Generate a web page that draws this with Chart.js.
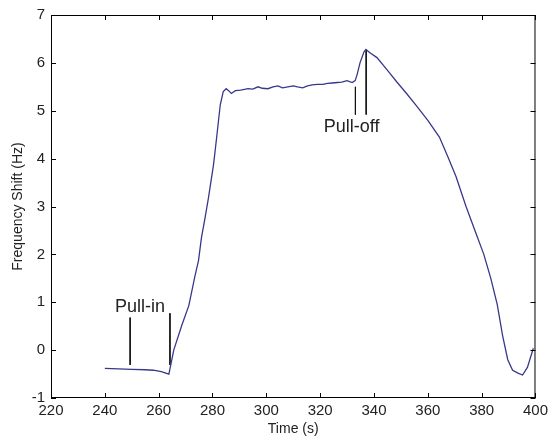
<!DOCTYPE html>
<html>
<head>
<meta charset="utf-8">
<script src="https://cdn.jsdelivr.net/npm/chart.js@4.4.0/dist/chart.umd.min.js"></script>
<style>
  html, body { margin: 0; padding: 0; background: #fff; }
</style>
</head>
<body>
<canvas id="myChart" width="552" height="441"></canvas>
<script>
const ctx = document.getElementById("myChart").getContext("2d");

// frequency shift trace
const time = [
  240, 245, 250, 255, 258, 261, 263.8, 265.6, 268.6, 271.2, 273.5, 274.8,
  275.9, 277.2, 278.5, 280.4, 281.5, 282.9, 284, 285.1, 286, 287, 288.5,
  290.5, 293.2, 295, 296.9, 298.5, 300.6, 302.5, 304.3, 306, 308, 310,
  311.6, 313.5, 315.3, 317, 319, 321, 322.7, 324.5, 326.4, 328, 330,
  331.9, 333, 333.7, 334.8, 336.3, 337, 338.5, 341.1, 344.8, 348.5, 352.1,
  355.8, 360, 364.3, 367.6, 370.5, 374.2, 377.5, 380.8, 383.4,
  385.8, 387.8, 389.7, 391.5, 393.5, 395.2, 397, 399.2,
];
const shift = [
  -0.38, -0.39, -0.40, -0.41, -0.42, -0.45, -0.50, 0.00, 0.52, 0.93, 1.55, 1.87,
  2.35, 2.75, 3.18, 3.88, 4.42, 5.13, 5.40, 5.46, 5.42, 5.36, 5.42,
  5.43, 5.46, 5.45, 5.50, 5.47, 5.46, 5.50, 5.52, 5.48, 5.50, 5.52,
  5.50, 5.48, 5.52, 5.54, 5.55, 5.55, 5.57, 5.58, 5.59, 5.60, 5.63,
  5.59, 5.63, 5.75, 6.00, 6.23, 6.28, 6.21, 6.11, 5.86, 5.60, 5.36,
  5.10, 4.80, 4.45, 4.02, 3.62, 3.00, 2.50, 2.00, 1.50,
  0.95, 0.30, -0.20, -0.42, -0.48, -0.52, -0.36, 0.04,
];

// annotation marks (vertical strokes) and their labels
const markTimes = [249.4, 264.2, 333.1, 337.1];
const markTops = [0.68, 0.77, 5.50, 6.27];
const markBottoms = [-0.31, -0.31, 4.92, 4.92];
const labelTexts = ['Pull-in', 'Pull-off'];
const labelTimes = [253.1, 331.7];
const labelShifts = [0.91, 4.67];

const xTicks = [220, 240, 260, 280, 300, 320, 340, 360, 380, 400];
const yTicks = [-1, 0, 1, 2, 3, 4, 5, 6, 7];

const font = "'Liberation Sans', Arial, sans-serif";

const datasets = [
  {
    data: time.map((t, i) => ({ x: t, y: shift[i] })),
    borderColor: '#38388a',
    borderWidth: 1.3,
    pointRadius: 0,
    tension: 0,
  },
];
markTimes.forEach((t, i) => {
  datasets.push({
    data: [{ x: t, y: markTops[i] }, { x: t, y: markBottoms[i] }],
    borderColor: '#111',
    borderWidth: 1,
    pointRadius: 0,
  });
});

// box around plot area + inward tick marks, plus text labels
const frame = {
  id: 'frame',
  afterDraw(chart) {
    const { ctx, chartArea: a, scales } = chart;
    const len = 5;
    ctx.save();
    ctx.strokeStyle = '#000';
    ctx.lineWidth = 1;
    ctx.strokeRect(a.left + 0.5, a.top + 0.5, a.right - a.left - 1, a.bottom - a.top - 1);
    ctx.beginPath();
    xTicks.forEach(v => {
      const px = Math.round(scales.x.getPixelForValue(v)) + 0.5;
      ctx.moveTo(px, a.bottom); ctx.lineTo(px, a.bottom - len);
      ctx.moveTo(px, a.top); ctx.lineTo(px, a.top + len);
    });
    yTicks.forEach(v => {
      const py = Math.round(scales.y.getPixelForValue(v)) + 0.5;
      ctx.moveTo(a.left, py); ctx.lineTo(a.left + len, py);
      ctx.moveTo(a.right, py); ctx.lineTo(a.right - len, py);
    });
    ctx.stroke();

    ctx.fillStyle = '#222';
    ctx.font = "18px " + font;
    ctx.textAlign = 'center';
    ctx.textBaseline = 'middle';
    labelTexts.forEach((txt, i) => {
      ctx.fillText(txt, scales.x.getPixelForValue(labelTimes[i]), scales.y.getPixelForValue(labelShifts[i]));
    });
    ctx.restore();
  },
};

const config = {
  type: 'line',
  data: { datasets },
  options: {
    responsive: false,
    animation: false,
    devicePixelRatio: 1,
    layout: { padding: { top: 13, right: 12, left: 0, bottom: 0 } },
    plugins: { legend: { display: false }, tooltip: { enabled: false } },
    scales: {
      x: {
        type: 'linear',
        min: 220,
        max: 400,
        grid: { display: false, drawTicks: false },
        border: { display: false },
        ticks: {
          stepSize: 20,
          padding: 4,
          color: '#222',
          font: { family: font, size: 15 },
          maxRotation: 0,
        },
        title: {
          display: true,
          text: 'Time (s)',
          color: '#222',
          font: { family: font, size: 14 },
          padding: { top: 0, bottom: 3 },
        },
        afterFit(scale) { scale.height = 43; },
      },
      y: {
        min: -1,
        max: 7,
        grid: { display: false, drawTicks: false },
        border: { display: false },
        ticks: {
          stepSize: 1,
          padding: 6,
          color: '#222',
          font: { family: font, size: 15 },
        },
        title: {
          display: true,
          text: 'Frequency Shift (Hz)',
          color: '#222',
          font: { family: font, size: 14 },
          padding: { top: 10, bottom: 0 },
        },
        afterFit(scale) { scale.width = 51; },
      },
    },
  },
  plugins: [frame],
};

const myChart = new Chart(ctx, config);
</script>
</body>
</html>
